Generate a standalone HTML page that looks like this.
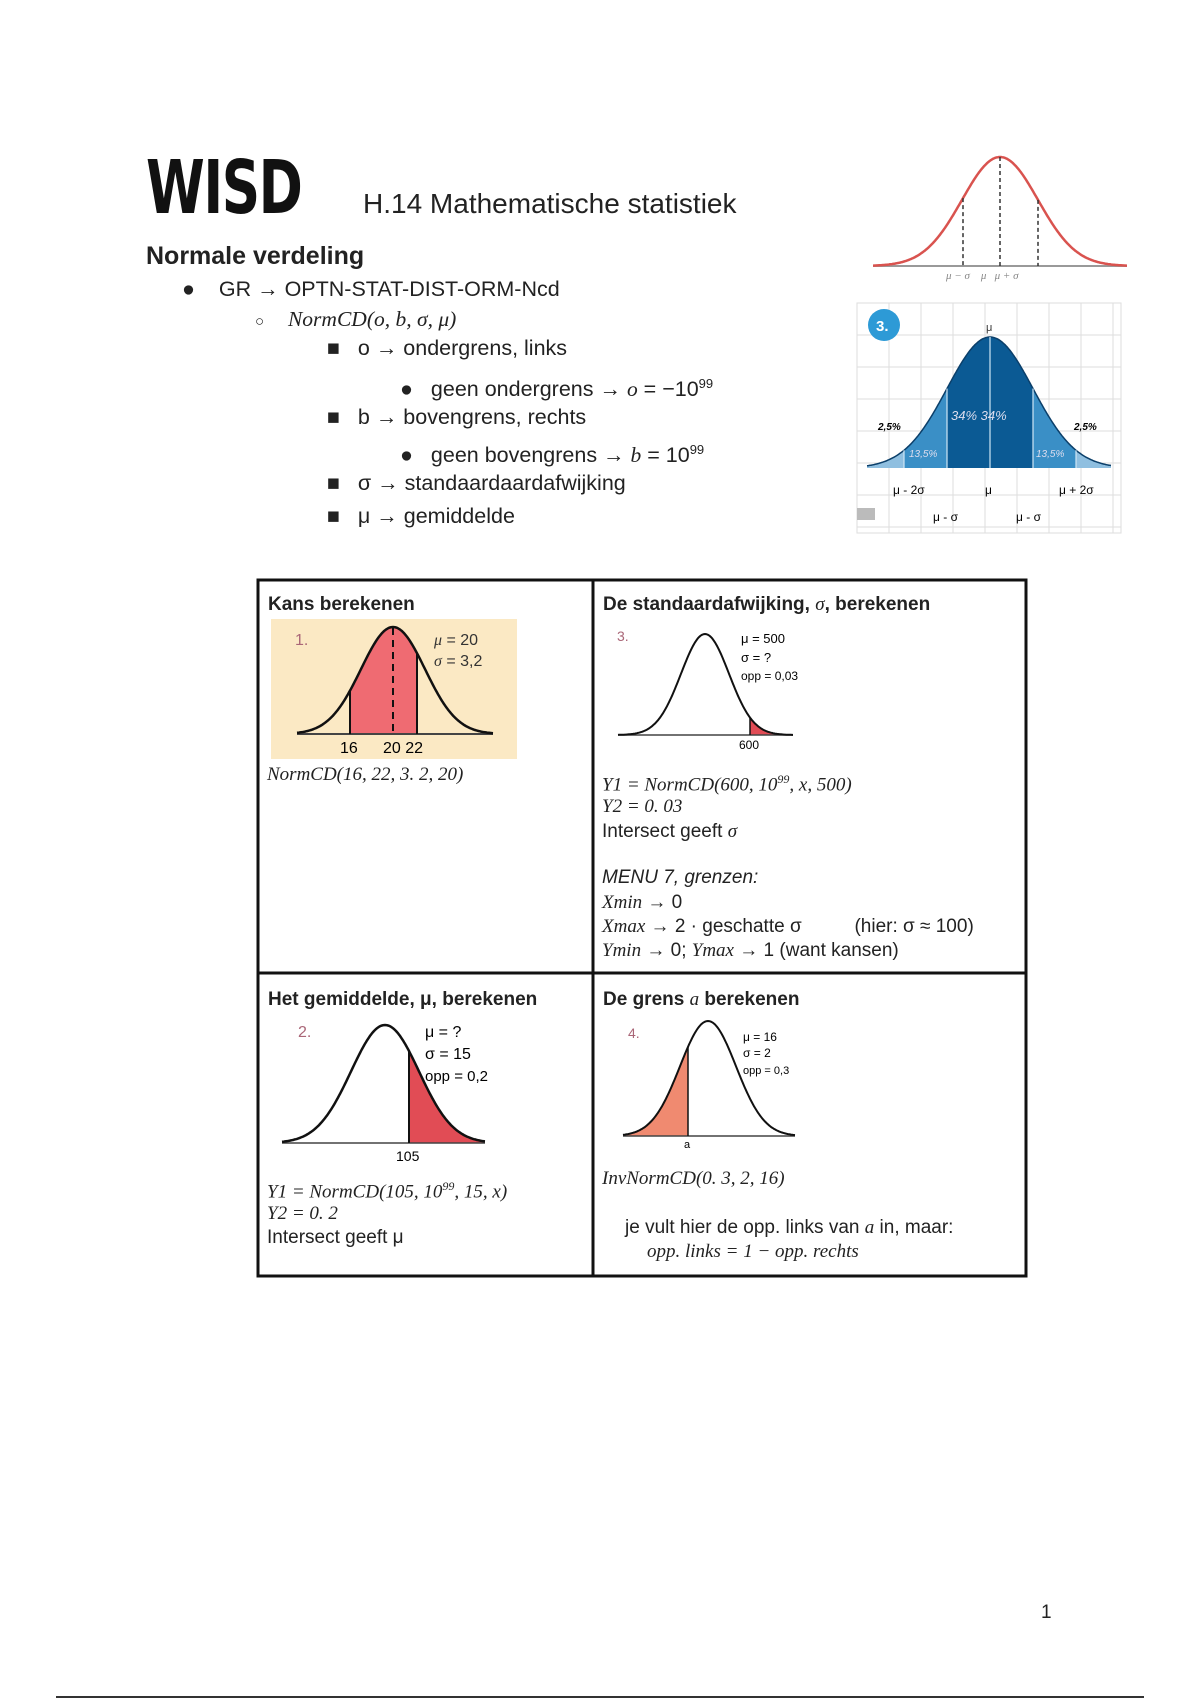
<!DOCTYPE html>
<html><head><meta charset="utf-8"><style>
body{margin:0;background:#fff;}
#p{position:relative;width:1200px;height:1700px;overflow:hidden;font-family:"Liberation Sans",sans-serif;color:#222;}
.t{position:absolute;white-space:nowrap;font-size:20.5px;line-height:1;}
.u{font-size:21.5px;}
.m{font-family:"Liberation Serif",serif;font-style:italic;}
.b{font-weight:bold;}
svg{position:absolute;left:0;top:0;}
</style></head><body><div id="p">
<div class="t" style="left:146px;top:151px;font-size:74px;font-weight:bold;letter-spacing:-2px;transform:scaleX(0.72);transform-origin:left;font-family:'DejaVu Sans','Liberation Sans',sans-serif;color:#111;">WISD</div>
<div class="t" style="left:363px;top:190px;font-size:28px;">H.14 Mathematische statistiek</div>
<div class="t b" style="left:146px;top:244px;font-size:25px;">Normale verdeling</div>
<div class="t u" style="left:182px;top:279px;">●&nbsp;&nbsp;&nbsp; GR → OPTN-STAT-DIST-ORM-Ncd</div>
<div class="t u" style="left:255px;top:309px;"><span style="font-size:15px">○</span>&nbsp;&nbsp;&nbsp; <span class="m">NormCD(o, b, σ, μ)</span></div>
<div class="t u" style="left:327px;top:338px;">■&nbsp;&nbsp; o → ondergrens, links</div>
<div class="t u" style="left:400px;top:377px;">●&nbsp;&nbsp; geen ondergrens → <span class="m">o</span> = −10<sup style="font-size:13px">99</sup></div>
<div class="t u" style="left:327px;top:407px;">■&nbsp;&nbsp; b → bovengrens, rechts</div>
<div class="t u" style="left:400px;top:443px;">●&nbsp;&nbsp; geen bovengrens → <span class="m">b</span> = 10<sup style="font-size:13px">99</sup></div>
<div class="t u" style="left:327px;top:473px;">■&nbsp;&nbsp; σ → standaardaardafwijking</div>
<div class="t u" style="left:327px;top:506px;">■&nbsp;&nbsp; μ → gemiddelde</div>

<svg id="g" width="1200" height="1700"></svg>

<div class="t b" style="left:268px;top:595px;font-size:19px;">Kans berekenen</div>
<div class="t b" style="left:603px;top:595px;font-size:19px;">De standaardafwijking, <span class="m" style="font-weight:normal">σ</span>, berekenen</div>
<div class="t b" style="left:268px;top:990px;font-size:19px;">Het gemiddelde, μ, berekenen</div>
<div class="t b" style="left:603px;top:990px;font-size:19px;">De grens <span class="m" style="font-weight:normal">a</span> berekenen</div>

<div class="t m" style="left:267px;top:765px;font-size:19px;">NormCD(16, 22, 3. 2, 20)</div>

<div class="t m" style="left:602px;top:773px;font-size:19px;">Y1 = NormCD(600, 10<sup style="font-size:12px">99</sup>, x, 500)</div>
<div class="t m" style="left:602px;top:797px;font-size:19px;">Y2 = 0. 03</div>
<div class="t" style="left:602px;top:822px;font-size:19px;">Intersect geeft <span class="m">σ</span></div>
<div class="t" style="left:602px;top:868px;font-size:19px;font-style:italic;">MENU 7, grenzen:</div>
<div class="t" style="left:602px;top:893px;font-size:19px;"><span class="m">Xmin</span> → 0</div>
<div class="t" style="left:602px;top:917px;font-size:19px;"><span class="m">Xmax</span> → 2 · geschatte σ&nbsp;&nbsp;&nbsp;&nbsp;&nbsp;&nbsp;&nbsp;&nbsp;&nbsp; (hier: σ ≈ 100)</div>
<div class="t" style="left:602px;top:941px;font-size:19px;"><span class="m">Ymin</span> → 0; <span class="m">Ymax</span> → 1 (want kansen)</div>

<div class="t m" style="left:267px;top:1180px;font-size:19px;">Y1 = NormCD(105, 10<sup style="font-size:12px">99</sup>, 15, x)</div>
<div class="t m" style="left:267px;top:1204px;font-size:19px;">Y2 = 0. 2</div>
<div class="t" style="left:267px;top:1228px;font-size:19px;">Intersect geeft μ</div>

<div class="t m" style="left:602px;top:1169px;font-size:19px;">InvNormCD(0. 3, 2, 16)</div>
<div class="t" style="left:625px;top:1218px;font-size:19px;">je vult hier de opp. links van <span class="m">a</span> in, maar:</div>
<div class="t m" style="left:647px;top:1242px;font-size:19px;">opp. links = 1 − opp. rechts</div>

<div class="t" style="left:1041px;top:1603px;font-size:19px;">1</div>
</div>
<script>
var g=document.getElementById('g'),h='';
function bell(x0,x1,base,xc,peak,sig){
 var p='';
 for(var x=x0;x<=x1;x+=1){var y=base-(base-peak)*Math.exp(-Math.pow((x-xc)/sig,2)/2);p+=(x==x0?'M':'L')+x+','+y.toFixed(1);}
 return p;
}
function fillp(a,b,base,xc,peak,sig){
 var p='M'+a+','+base;
 for(var x=a;x<=b;x+=1){var y=base-(base-peak)*Math.exp(-Math.pow((x-xc)/sig,2)/2);p+='L'+x+','+y.toFixed(1);}
 return p+'L'+b+','+base+'Z';
}
function Y(x,base,xc,peak,sig){return base-(base-peak)*Math.exp(-Math.pow((x-xc)/sig,2)/2);}
h+='<line x1="873" y1="266" x2="1127" y2="266" stroke="#999" stroke-width="2"/>';
h+='<path d="'+bell(873,1127,266,1000,157,38)+'" fill="none" stroke="#d9534f" stroke-width="2.5"/>';
[963,1000,1038].forEach(function(x){h+='<line x1="'+x+'" y1="'+Y(x,266,1000,157,38)+'" x2="'+x+'" y2="266" stroke="#333" stroke-dasharray="4,3" stroke-width="1.5"/>';});
h+='<text x="946" y="279" font-size="11" font-style="italic" fill="#888" font-family="Liberation Serif">μ − σ&#160;&#160;&#160;&#160;μ&#160;&#160;&#160;μ + σ</text>';
h+='<rect x="857" y="303" width="264" height="230" fill="#fff" stroke="#ddd"/>';
for(var x=857;x<1121;x+=32)h+='<line x1="'+x+'" y1="303" x2="'+x+'" y2="533" stroke="#ddd"/>';
for(var y=335;y<533;y+=32)h+='<line x1="857" y1="'+y+'" x2="1121" y2="'+y+'" stroke="#ddd"/>';
var B=468,C=990,P=337,S=43;
h+='<path d="'+fillp(867,1111,B,C,P,S)+'" fill="#8fbfe0"/>';
h+='<path d="'+fillp(904,1076,B,C,P,S)+'" fill="#3a8fc6"/>';
h+='<path d="'+fillp(947,1033,B,C,P,S)+'" fill="#0b5a94"/>';
h+='<path d="'+bell(867,1111,B,C,P,S)+'" fill="none" stroke="#0b3f6a" stroke-width="1.5"/>';
[904,947,990,1033,1076].forEach(function(x){h+='<line x1="'+x+'" y1="'+Y(x,B,C,P,S)+'" x2="'+x+'" y2="'+B+'" stroke="#cfe6f5" stroke-width="1.2"/>';});
h+='<circle cx="884" cy="325" r="16" fill="#2d9ad6"/><text x="876" y="331" font-size="15" font-weight="bold" fill="#fff">3.</text>';
h+='<text x="986" y="331" font-size="11" fill="#333">μ</text>';
h+='<text x="951" y="420" font-size="13" font-style="italic" fill="#dde">34% 34%</text>';
h+='<text x="909" y="457" font-size="10" font-style="italic" fill="#dde">13,5%</text><text x="1036" y="457" font-size="10" font-style="italic" fill="#dde">13,5%</text>';
h+='<text x="878" y="430" font-size="10" font-weight="bold" font-style="italic">2,5%</text><text x="1074" y="430" font-size="10" font-weight="bold" font-style="italic">2,5%</text>';
h+='<text x="893" y="494" font-size="12">μ - 2σ</text><text x="985" y="494" font-size="12">μ</text><text x="1059" y="494" font-size="12">μ + 2σ</text>';
h+='<text x="933" y="521" font-size="12">μ - σ</text><text x="1016" y="521" font-size="12">μ - σ</text>';
h+='<rect x="857" y="508" width="18" height="12" fill="#bbb"/>';
h+='<rect x="258" y="580" width="768" height="696" fill="none" stroke="#111" stroke-width="3"/>';
h+='<line x1="593" y1="580" x2="593" y2="1276" stroke="#111" stroke-width="3"/><line x1="258" y1="973" x2="1026" y2="973" stroke="#111" stroke-width="3"/>';
h+='<rect x="271" y="619" width="246" height="140" fill="#fbe9c4"/>';
var b1=734,c1=393,p1=627,s1=32;
h+='<path d="'+fillp(350,417,b1,c1,p1,s1)+'" fill="#ef6b72"/>';
h+='<line x1="297" y1="'+b1+'" x2="493" y2="'+b1+'" stroke="#444" stroke-width="2"/>';
h+='<path d="'+bell(297,493,b1,c1,p1,s1)+'" fill="none" stroke="#111" stroke-width="2.5"/>';
h+='<line x1="350" y1="'+Y(350,b1,c1,p1,s1)+'" x2="350" y2="'+b1+'" stroke="#111" stroke-width="2"/><line x1="417" y1="'+Y(417,b1,c1,p1,s1)+'" x2="417" y2="'+b1+'" stroke="#111" stroke-width="2"/>';
h+='<line x1="393" y1="628" x2="393" y2="'+b1+'" stroke="#111" stroke-width="2" stroke-dasharray="7,5"/>';
h+='<text x="340" y="753" font-size="16">16</text><text x="383" y="753" font-size="16">20 22</text>';
h+='<text x="295" y="645" font-size="16" fill="#a67">1.</text>';
h+='<text x="434" y="645" font-size="16" fill="#333"><tspan font-style="italic" font-family="Liberation Serif">μ</tspan> = 20</text><text x="434" y="666" font-size="16" fill="#333"><tspan font-style="italic" font-family="Liberation Serif">σ</tspan> = 3,2</text>';
var b2=735,c2=705,p2=634,s2=24;
h+='<path d="'+fillp(750,793,b2,c2,p2,s2)+'" fill="#e14c55"/>';
h+='<line x1="618" y1="'+b2+'" x2="793" y2="'+b2+'" stroke="#444" stroke-width="1.5"/>';
h+='<path d="'+bell(618,793,b2,c2,p2,s2)+'" fill="none" stroke="#111" stroke-width="2"/>';
h+='<line x1="750" y1="'+Y(750,b2,c2,p2,s2)+'" x2="750" y2="'+b2+'" stroke="#111" stroke-width="1.5"/>';
h+='<text x="739" y="749" font-size="12">600</text><text x="617" y="641" font-size="14" fill="#a67">3.</text>';
h+='<text x="741" y="643" font-size="13">μ = 500</text><text x="741" y="662" font-size="13">σ = ?</text><text x="741" y="680" font-size="12">opp = 0,03</text>';
var b3=1143,c3=385,p3=1025,s3=34;
h+='<path d="'+fillp(409,485,b3,c3,p3,s3)+'" fill="#e14c55"/>';
h+='<line x1="282" y1="'+b3+'" x2="485" y2="'+b3+'" stroke="#444" stroke-width="1.5"/>';
h+='<path d="'+bell(282,485,b3,c3,p3,s3)+'" fill="none" stroke="#111" stroke-width="2.5"/>';
h+='<line x1="409" y1="'+Y(409,b3,c3,p3,s3)+'" x2="409" y2="'+b3+'" stroke="#111" stroke-width="2"/>';
h+='<text x="396" y="1161" font-size="14">105</text><text x="298" y="1037" font-size="16" fill="#a67">2.</text>';
h+='<text x="425" y="1037" font-size="16">μ = ?</text><text x="425" y="1059" font-size="16">σ = 15</text><text x="425" y="1081" font-size="15">opp = 0,2</text>';
var b4=1136,c4=708,p4=1021,s4=28;
h+='<path d="'+fillp(623,688,b4,c4,p4,s4)+'" fill="#f08a70"/>';
h+='<line x1="623" y1="'+b4+'" x2="795" y2="'+b4+'" stroke="#444" stroke-width="1.5"/>';
h+='<path d="'+bell(623,795,b4,c4,p4,s4)+'" fill="none" stroke="#111" stroke-width="2"/>';
h+='<line x1="688" y1="'+Y(688,b4,c4,p4,s4)+'" x2="688" y2="'+b4+'" stroke="#111" stroke-width="1.5"/>';
h+='<text x="684" y="1148" font-size="11">a</text><text x="628" y="1038" font-size="14" fill="#a67">4.</text>';
h+='<text x="743" y="1041" font-size="12">μ = 16</text><text x="743" y="1057" font-size="12">σ = 2</text><text x="743" y="1074" font-size="11">opp = 0,3</text>';
h+='<line x1="56" y1="1697" x2="1144" y2="1697" stroke="#333" stroke-width="2"/>';
g.innerHTML=h;
</script>
</body></html>
